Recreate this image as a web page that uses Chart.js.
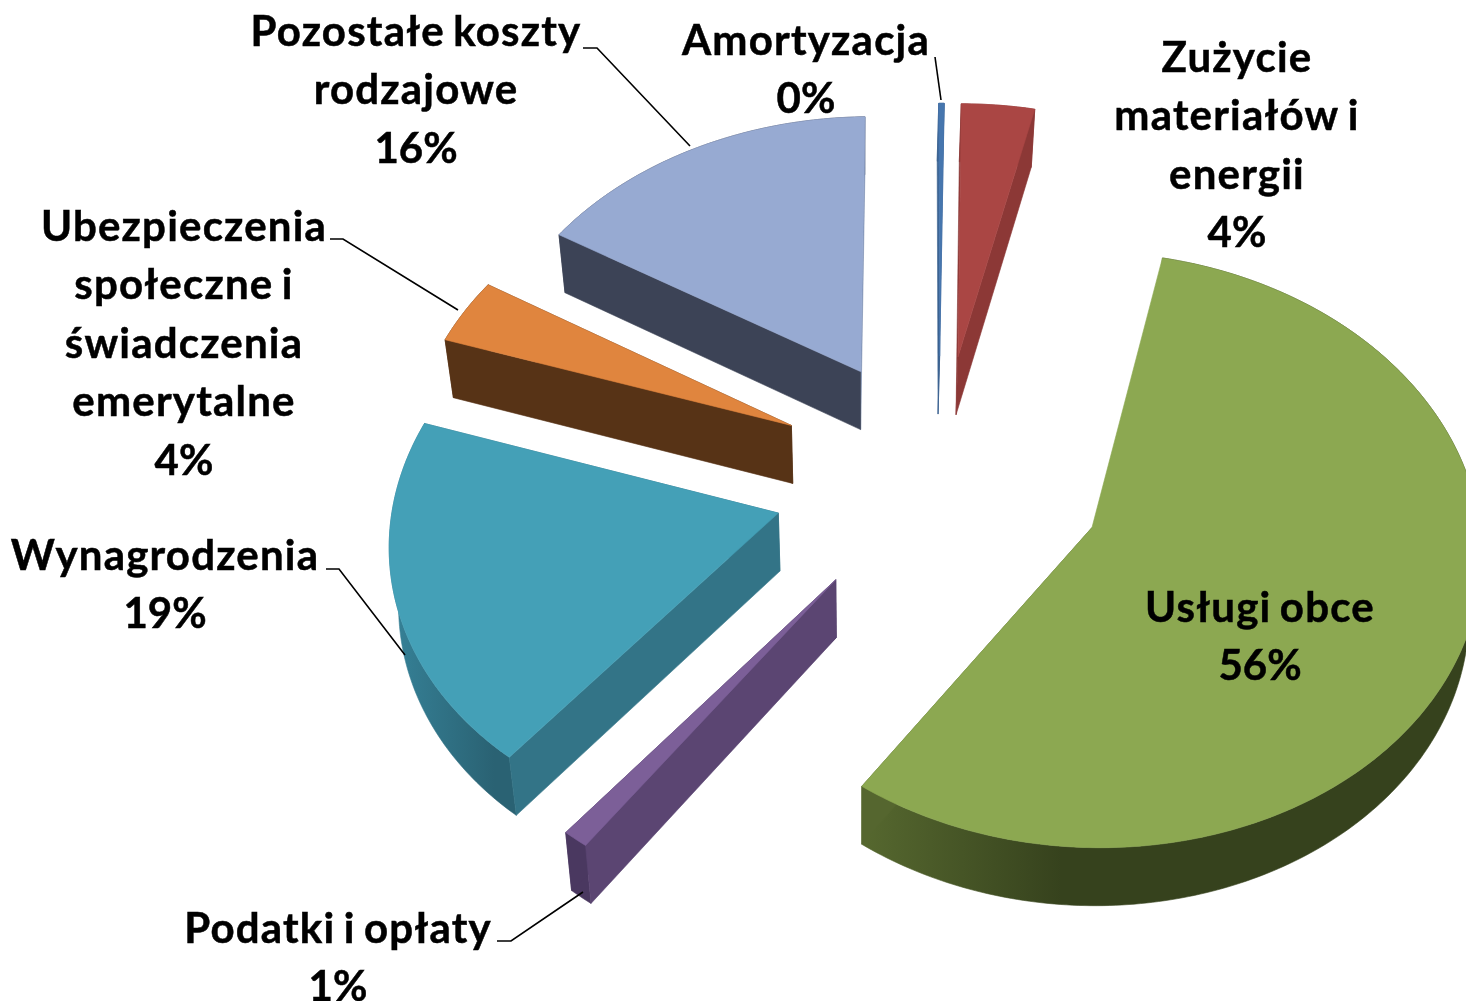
<!DOCTYPE html>
<html lang="pl">
<head>
<meta charset="utf-8">
<title>Struktura kosztów</title>
<style>html,body{margin:0;padding:0;background:#fff;overflow:hidden}canvas{display:block}</style>
<script src="https://cdn.jsdelivr.net/npm/chart.js@4/dist/chart.umd.js"></script>
</head>
<body>
<canvas id="c" width="1466" height="1001"></canvas>
<script>
const categories = ['Zużycie materiałów i energii','Usługi obce','Podatki i opłaty','Wynagrodzenia','Ubezpieczenia społeczne i świadczenia emerytalne','Pozostałe koszty rodzajowe','Amortyzacja'];
const costShares = [3.4, 56.3, 1.0, 19.35, 3.65, 16.05, 0.25];
const percentLabels = ['4%','56%','1%','19%','4%','16%','0%'];
const topColors = ['#AA4644','#8CA851','#7C5F98','#44A0B7','#E0853E','#97AAD2','#4676AE'];
const startWallColors = ['#8C3836','#55662F','#5B4572','#337487','#573316','#3C4356','#3A6290'];
const endWallColors = ['#8C3836','#55662F','#4A3860','#337487','#573316','#7D90B3','#3A6290'];
const outerWallA = ['#8C3836','#56682F','#4A3860','#368298','#573316','#3C4356','#3A6290'];
const outerWallB = ['#8C3836','#36421D','#4A3860','#2A6273','#573316','#3C4356','#3A6290'];
const wallFade = [100, 200, 20, 105, 100, 100, 10];

const view = {cx:939, cy:477, sx:1.035, sy:0.78, k:0.0002, shear:0.012, depth:58, explode:160, vanishX:860, taper:0.02};
const textLayout = [
  {lines:['Zużycie','materiałów i','energii'], x:1237, y:72},
  {lines:['Usługi obce'], x:1260, y:622},
  {lines:['Podatki i opłaty'], x:338, y:943},
  {lines:['Wynagrodzenia'], x:165, y:570},
  {lines:['Ubezpieczenia','społeczne i','świadczenia','emerytalne'], x:184, y:241},
  {lines:['Pozostałe koszty','rodzajowe'], x:416, y:46},
  {lines:['Amortyzacja'], x:806, y:55}
];
const leaders = [
  [[583,48],[597,48],[690,146]],
  [[935,57],[941,100]],
  [[330,239],[343,239],[458,310]],
  [[326,569],[339,569],[405,655]],
  [[497,941],[511,941],[583,892]]
];

function project(X, Y, drop) {
  const w = 1 - view.k * Y;
  const x = view.cx + view.sx * X / w - view.shear * Y;
  const f = view.taper * drop / view.depth;
  return [x + f * (view.vanishX - x), view.cy + view.sy * Y / w + drop];
}
function fillPoly(ctx, pts, fill) {
  ctx.beginPath();
  pts.forEach((p, i) => i ? ctx.lineTo(p[0], p[1]) : ctx.moveTo(p[0], p[1]));
  ctx.closePath();
  ctx.fillStyle = fill;
  ctx.fill();
  ctx.strokeStyle = fill;
  ctx.lineWidth = 0.6;
  ctx.stroke();
}

const pie3d = {
  id: 'pie3d',
  beforeDatasetsDraw(chart) {
    const ctx = chart.ctx;
    const arcs = chart.getDatasetMeta(0).data;
    const order = arcs.map((a, i) => i);
    const mid = a => (a.startAngle + a.endAngle) / 2 + Math.PI / 2;
    order.sort((p, q) => -Math.cos(mid(arcs[p])) - -Math.cos(mid(arcs[q])));
    order.forEach(i => {
      const a = arcs[i];
      const t0 = a.startAngle + Math.PI / 2, t1 = a.endAngle + Math.PI / 2, m = (t0 + t1) / 2;
      const R = a.outerRadius;
      const ox = view.explode * Math.sin(m), oy = -view.explode * Math.cos(m);
      const steps = Math.max(2, Math.ceil((t1 - t0) / 0.015));
      const rim = d => {
        const out = [];
        for (let s = 0; s <= steps; s++) {
          const t = t0 + (t1 - t0) * s / steps;
          out.push(project(ox + R * Math.sin(t), oy - R * Math.cos(t), d));
        }
        return out;
      };
      const tip = project(ox, oy, 0), tipB = project(ox, oy, view.depth);
      const top = rim(0), bot = rim(view.depth);
      const gx = Math.min(...top.map(p => p[0]));
      const startX = i === 1 ? top[steps][0] : gx;
      const grad = ctx.createLinearGradient(startX, 0, startX + wallFade[i], 0);
      grad.addColorStop(0, outerWallA[i]);
      grad.addColorStop(1, outerWallB[i]);
      fillPoly(ctx, top.concat(bot.slice().reverse()), grad);
      fillPoly(ctx, [tip, top[steps], bot[steps], tipB], endWallColors[i]);
      if (i !== 1) fillPoly(ctx, [tip, top[0], bot[0], tipB], startWallColors[i]);
      fillPoly(ctx, [tip].concat(top), topColors[i]);
    });
    ctx.strokeStyle = '#000';
    ctx.lineWidth = 1.6;
    leaders.forEach(l => {
      ctx.beginPath();
      l.forEach((p, i) => i ? ctx.lineTo(p[0], p[1]) : ctx.moveTo(p[0], p[1]));
      ctx.stroke();
    });
    ctx.fillStyle = '#000';
    ctx.strokeStyle = '#000';
    ctx.lineWidth = 0.5;
    ctx.textAlign = 'center';
    ctx.textBaseline = 'alphabetic';
    ctx.font = 'bold 42px Lato';
    textLayout.forEach((t, i) => {
      ctx.letterSpacing = '1.2px';
      ctx.wordSpacing = '-3px';
      t.lines.forEach((s, j) => {
        ctx.fillText(s, t.x, t.y + j * 58.4);
        ctx.strokeText(s, t.x, t.y + j * 58.4);
      });
      ctx.letterSpacing = '0px';
      ctx.wordSpacing = '0px';
      const py = t.y + t.lines.length * 58.4;
      ctx.fillText(percentLabels[i], t.x, py);
      ctx.strokeText(percentLabels[i], t.x, py);
    });
    return false;
  }
};

new Chart(document.getElementById('c'), {
  type: 'pie',
  data: {
    labels: categories,
    datasets: [{ data: costShares, backgroundColor: topColors, borderWidth: 0 }]
  },
  options: {
    responsive: false,
    animation: false,
    radius: 370,
    rotation: 0,
    plugins: { legend: { display: false }, tooltip: { enabled: false } }
  },
  plugins: [pie3d]
});
</script>
</body>
</html>
